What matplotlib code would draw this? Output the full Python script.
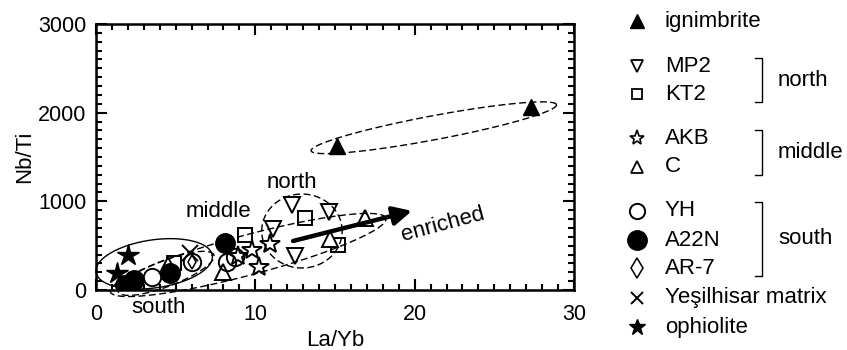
import numpy as np
import matplotlib
matplotlib.use('Agg')
import matplotlib.pyplot as plt
from matplotlib.ticker import MultipleLocator

plt.rcParams['font.family'] = ['Liberation Sans', 'DejaVu Sans']

# ---- data (La/Yb, Nb/Ti) ----
ign_x = [15.1, 27.3]
ign_y = [1620, 2060]
mp2_x = [12.3, 14.6, 11.1, 12.5]
mp2_y = [960, 880, 690, 380]
kt2_x = [4.9, 9.35, 13.1, 15.2]
kt2_y = [300, 620, 810, 510]
akb_x = [8.9, 9.8, 10.9, 10.2]
akb_y = [380, 455, 520, 255]
c_x = [4.5, 7.95, 14.7, 16.9]
c_y = [280, 200, 575, 810]
yh_x = [3.5, 6.0, 8.2, 8.7]
yh_y = [150, 320, 320, 370]
a22n_x = [1.8, 2.4, 4.65, 8.1]
a22n_y = [60, 110, 190, 535]
ar7_x = [6.0]
ar7_y = [320]
yes_x = [5.9]
yes_y = [420]
oph_x = [1.3, 2.0]
oph_y = [190, 390]

# ellipses: major-axis end points (data) and semi-minor (pixels)
ell_ign = ((13.5, 1570), (28.9, 2090), 12)
ell_north = ((10.4, 665), (15.45, 665), 37)
ell_mid = ((0.9, -20), (18.2, 810), 20)
ell_south = ((1.4, -20), (7.4, 395), 13)
ell_oph = ((0.0, 200), (7.3, 390), 24)

FS = 16

fig = plt.figure(figsize=(8.47, 3.5), dpi=100)
ax = fig.add_axes([96/847, 60/350, 478/847, 266/350])
ax.set_xlim(0, 30)
ax.set_ylim(0, 3000)

ax.plot(ign_x, ign_y, '^', color='black', ms=12, ls='none')
ax.plot(mp2_x, mp2_y, 'v', mfc='white', mec='black', mew=1.4, ms=11.5, ls='none')
ax.plot(kt2_x, kt2_y, 's', mfc='white', mec='black', mew=1.4, ms=10, ls='none')
ax.plot(akb_x, akb_y, '*', mfc='white', mec='black', mew=1.4, ms=15, ls='none')
ax.plot(c_x, c_y, '^', mfc='white', mec='black', mew=1.4, ms=11.5, ls='none')
ax.plot(ar7_x, ar7_y, 'd', mfc='none', mec='black', mew=1.1, ms=7, ls='none')
ax.plot(yh_x, yh_y, 'o', mfc='none', mec='black', mew=1.4, ms=12.5, ls='none')
ax.plot(a22n_x, a22n_y, 'o', color='black', ms=14, ls='none')
ax.plot(yes_x, yes_y, 'x', color='black', mew=1.4, ms=11, ls='none')
ax.plot(oph_x, oph_y, '*', color='black', ms=16, ls='none')

fig.canvas.draw()


def draw_ellipse(p1, p2, b, ls):
    d1 = ax.transData.transform(p1)
    d2 = ax.transData.transform(p2)
    c = (d1 + d2) / 2
    v = d2 - d1
    a = np.hypot(*v) / 2
    th = np.arctan2(v[1], v[0])
    t = np.linspace(0, 2 * np.pi, 200)
    px = c[0] + a * np.cos(t) * np.cos(th) - b * np.sin(t) * np.sin(th)
    py = c[1] + a * np.cos(t) * np.sin(th) + b * np.sin(t) * np.cos(th)
    pts = ax.transData.inverted().transform(np.column_stack([px, py]))
    line, = ax.plot(pts[:, 0], pts[:, 1], color='black', lw=1.0, clip_on=False)
    if ls == 'dashed':
        line.set_dashes((5, 2.5))


for e in (ell_ign, ell_north, ell_mid, ell_south):
    draw_ellipse(*e, 'dashed')
draw_ellipse(*ell_oph, 'solid')

ax.annotate('', xy=(20.0, 900), xytext=(12.2, 545),
            arrowprops=dict(arrowstyle='-|>', lw=3.2, mutation_scale=28, color='black'))
ax.text(21.8, 735, 'enriched', rotation=15, ha='center', va='center', fontsize=FS)
ax.text(12.3, 1210, 'north', ha='center', va='center', fontsize=FS)
ax.text(7.7, 880, 'middle', ha='center', va='center', fontsize=FS)
ax.text(3.9, -200, 'south', ha='center', va='center', fontsize=FS)

ax.xaxis.set_major_locator(MultipleLocator(10))
ax.xaxis.set_minor_locator(MultipleLocator(1))
ax.yaxis.set_major_locator(MultipleLocator(1000))
ax.yaxis.set_minor_locator(MultipleLocator(100))
ax.tick_params(which='both', direction='in', top=True, right=True, width=1.5, labelsize=15.5)
ax.tick_params(which='major', length=8)
ax.tick_params(which='minor', length=4)
ax.tick_params(axis='x', which='major', pad=10)
ax.tick_params(axis='y', which='major', pad=7)
for s in ax.spines.values():
    s.set_linewidth(1.8)
ax.set_xlabel('La/Yb', fontsize=FS, labelpad=4)
ax.set_ylabel('Nb/Ti', fontsize=FS, labelpad=2)

# ---- legend (drawn manually) ----
leg = fig.add_axes([0, 0, 1, 1])
leg.set_xlim(0, 847)
leg.set_ylim(350, 0)
leg.axis('off')

leg_labels = ['ignimbrite', 'MP2', 'KT2', 'AKB', 'C', 'YH', 'A22N', 'AR-7',
              'Yeşilhisar matrix', 'ophiolite']
leg_rows = [21, 66, 94, 138, 167, 211, 240, 268, 298, 327]
leg_style = [
    dict(marker='^', mfc='black', mec='black', ms=10),
    dict(marker='v', mfc='white', mec='black', ms=8.5, mew=1.3),
    dict(marker='s', mfc='white', mec='black', ms=7.5, mew=1.3),
    dict(marker='*', mfc='white', mec='black', ms=11, mew=1.2),
    dict(marker='^', mfc='white', mec='black', ms=8.5, mew=1.3),
    dict(marker='o', mfc='white', mec='black', ms=11, mew=1.4),
    dict(marker='o', mfc='black', mec='black', ms=14),
    dict(marker='d', mfc='white', mec='black', ms=10, mew=1.1),
    dict(marker='x', mfc='black', mec='black', ms=9, mew=1.4),
    dict(marker='*', mfc='black', mec='black', ms=12),
]
for lab, yy, st in zip(leg_labels, leg_rows, leg_style):
    leg.plot([637], [yy], ls='none', **st)
    leg.text(665, yy, lab, va='center', ha='left', fontsize=FS)

groups = [('north', 58, 102), ('middle', 130, 175), ('south', 202, 276)]
for name, y0, y1 in groups:
    leg.plot([755, 762, 762, 755], [y0, y0, y1, y1], color='black', lw=1.0)
    leg.text(778, (y0 + y1) / 2, name, va='center', ha='left', fontsize=FS)

fig.savefig('out.png', dpi=100)
